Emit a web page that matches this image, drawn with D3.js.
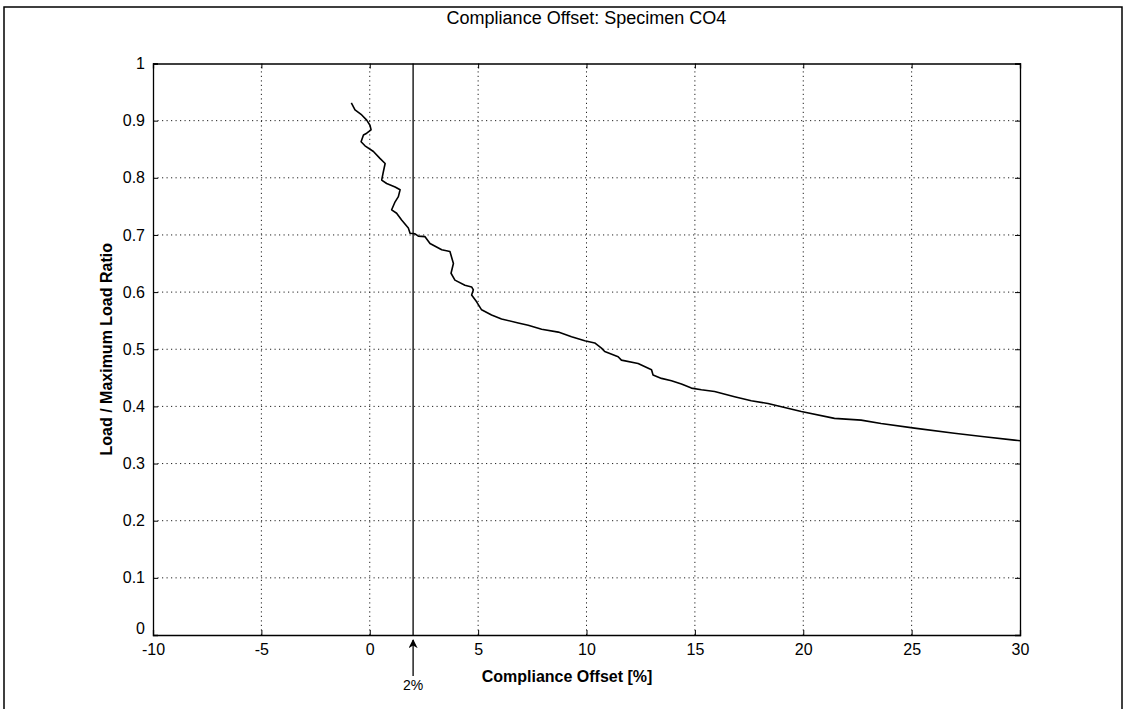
<!DOCTYPE html>
<html>
<head>
<meta charset="utf-8">
<script src="https://d3js.org/d3.v7.min.js"></script>
<style>
  body { margin: 0; background: #fff; }
  svg { display: block; }
  text { font-family: "Liberation Sans", Arial, sans-serif; fill: #000; }
</style>
</head>
<body>
<script>
// ---- Data ----
const offsetPct = [-0.85,-0.68,-0.37,-0.14,0.01,0.06,-0.14,-0.29,-0.40,-0.22,0.17,0.47,0.71,0.63,0.55,0.78,1.17,1.40,1.32,1.17,1.01,1.24,1.47,1.78,1.86,2.09,2.24,2.55,2.78,3.32,3.70,3.86,3.75,3.93,4.39,4.70,4.78,4.70,4.93,5.16,5.62,6.08,6.85,7.31,7.93,8.70,9.31,9.92,10.38,10.69,10.84,11.46,11.61,12.38,13.00,13.07,13.46,13.92,14.38,14.84,15.30,15.91,16.83,17.60,18.37,19.91,21.44,22.67,23.59,25.13,26.97,28.35,29.74,30.0];
const loadRatio = [0.931,0.919,0.910,0.901,0.892,0.884,0.878,0.875,0.863,0.856,0.846,0.834,0.825,0.811,0.796,0.790,0.784,0.779,0.767,0.758,0.744,0.738,0.726,0.712,0.703,0.702,0.698,0.697,0.685,0.674,0.671,0.650,0.633,0.621,0.612,0.609,0.604,0.595,0.583,0.569,0.560,0.553,0.546,0.542,0.535,0.530,0.522,0.515,0.511,0.502,0.496,0.487,0.481,0.475,0.464,0.455,0.449,0.445,0.439,0.432,0.429,0.426,0.417,0.410,0.405,0.391,0.379,0.376,0.370,0.362,0.353,0.347,0.341,0.340];
const xTicks = [-10,-5,0,5,10,15,20,25,30];
const xTickLabels = ["-10","-5","0","5","10","15","20","25","30"];
const yTicks = [0,0.1,0.2,0.3,0.4,0.5,0.6,0.7,0.8,0.9,1];
const yTickLabels = ["0","0.1","0.2","0.3","0.4","0.5","0.6","0.7","0.8","0.9","1"];
const markerX = 2;
const titleText = "Compliance Offset: Specimen CO4";
const xLabelText = "Compliance Offset [%]";
const yLabelText = "Load / Maximum Load Ratio";
const markerLabel = "2%";

// ---- Layout ----
const W = 1127, H = 709;
const L = 153, R = 1020, T = 63.5, B = 635;

const svg = d3.select("body").append("svg").attr("width", W).attr("height", H);

// outer frame
svg.append("rect").attr("x", 4).attr("y", 7).attr("width", 1118).attr("height", 720)
  .attr("fill", "none").attr("stroke", "#000").attr("stroke-width", 1.5);

const x = d3.scaleLinear().domain([-10, 30]).range([L, R]);
const y = d3.scaleLinear().domain([0, 1]).range([B, T]);

// grid
const grid = svg.append("g").attr("stroke", "#222").attr("stroke-width", 1).attr("stroke-dasharray", "1.2,3.3");
grid.selectAll("line.gx").data(xTicks.slice(1, -1)).join("line")
  .attr("x1", d => x(d)).attr("x2", d => x(d)).attr("y1", B).attr("y2", T);
grid.selectAll("line.gy").data(yTicks.slice(1, -1)).join("line")
  .attr("y1", d => y(d)).attr("y2", d => y(d)).attr("x1", L).attr("x2", R);

// axes (MATLAB style, inward ticks, box)
const xAxis = d3.axisBottom(x).tickValues(xTicks).tickSize(-5).tickPadding(9)
  .tickFormat((d, i) => xTickLabels[i]);
const yAxis = d3.axisLeft(y).tickValues(yTicks).tickSize(-5).tickPadding(8)
  .tickFormat((d, i) => yTickLabels[i]);

const gx = svg.append("g").attr("transform", `translate(0,${B})`).call(xAxis);
const gy = svg.append("g").attr("transform", `translate(${L},0)`).call(yAxis);
const gxt = svg.append("g").attr("transform", `translate(0,${T})`).call(d3.axisTop(x).tickValues(xTicks).tickSize(-5).tickFormat(""));
const gyr = svg.append("g").attr("transform", `translate(${R},0)`).call(d3.axisRight(y).tickValues(yTicks).tickSize(-5).tickFormat(""));
[gx, gy, gxt, gyr].forEach(g => {
  g.attr("font-size", null).attr("font-family", null);
  g.select(".domain").attr("stroke", "#000").attr("stroke-width", 1.3);
  g.selectAll(".tick line").attr("stroke", "#000");
  g.selectAll("text").style("font-size", "16px").attr("fill", "#000")
    .style("font-family", "'Liberation Sans', Arial, sans-serif");
});
gy.selectAll(".tick text").filter(d => d === 0).attr("dy", "-0.1em");

// curve
const pts = offsetPct.map((v, i) => [v, loadRatio[i]]);
svg.append("path").datum(pts)
  .attr("fill", "none").attr("stroke", "#000").attr("stroke-width", 1.6)
  .attr("stroke-linejoin", "round")
  .attr("d", d3.line().x(d => x(d[0])).y(d => y(d[1])));

// 2% marker line
svg.append("line").attr("x1", x(markerX)).attr("x2", x(markerX)).attr("y1", B).attr("y2", T)
  .attr("stroke", "#000").attr("stroke-width", 1.3);

// arrow
svg.append("defs").append("marker").attr("id", "ah").attr("viewBox", "0 0 10 10")
  .attr("refX", 9).attr("refY", 5).attr("markerWidth", 7).attr("markerHeight", 7)
  .attr("orient", "auto").append("path").attr("d", "M0,0 L10,5 L0,10 L3,5 Z").attr("fill", "#000");
svg.append("line").attr("x1", x(markerX)).attr("x2", x(markerX)).attr("y1", 676).attr("y2", 640)
  .attr("stroke", "#000").attr("stroke-width", 1.3).attr("marker-end", "url(#ah)");
svg.append("text").attr("x", x(markerX)).attr("y", 690).attr("text-anchor", "middle")
  .style("font-size", "14px").text(markerLabel);

// title and labels
svg.append("text").attr("x", (L + R) / 2).attr("y", 24).attr("text-anchor", "middle")
  .style("font-size", "18px").text(titleText);
svg.append("text").attr("x", 567).attr("y", 682).attr("text-anchor", "middle")
  .style("font-size", "16px").style("font-weight", "bold").text(xLabelText);
svg.append("text").attr("transform", `translate(112,${(T + B) / 2}) rotate(-90)`)
  .attr("text-anchor", "middle").style("font-size", "16px").style("font-weight", "bold").text(yLabelText);
</script>
</body>
</html>
